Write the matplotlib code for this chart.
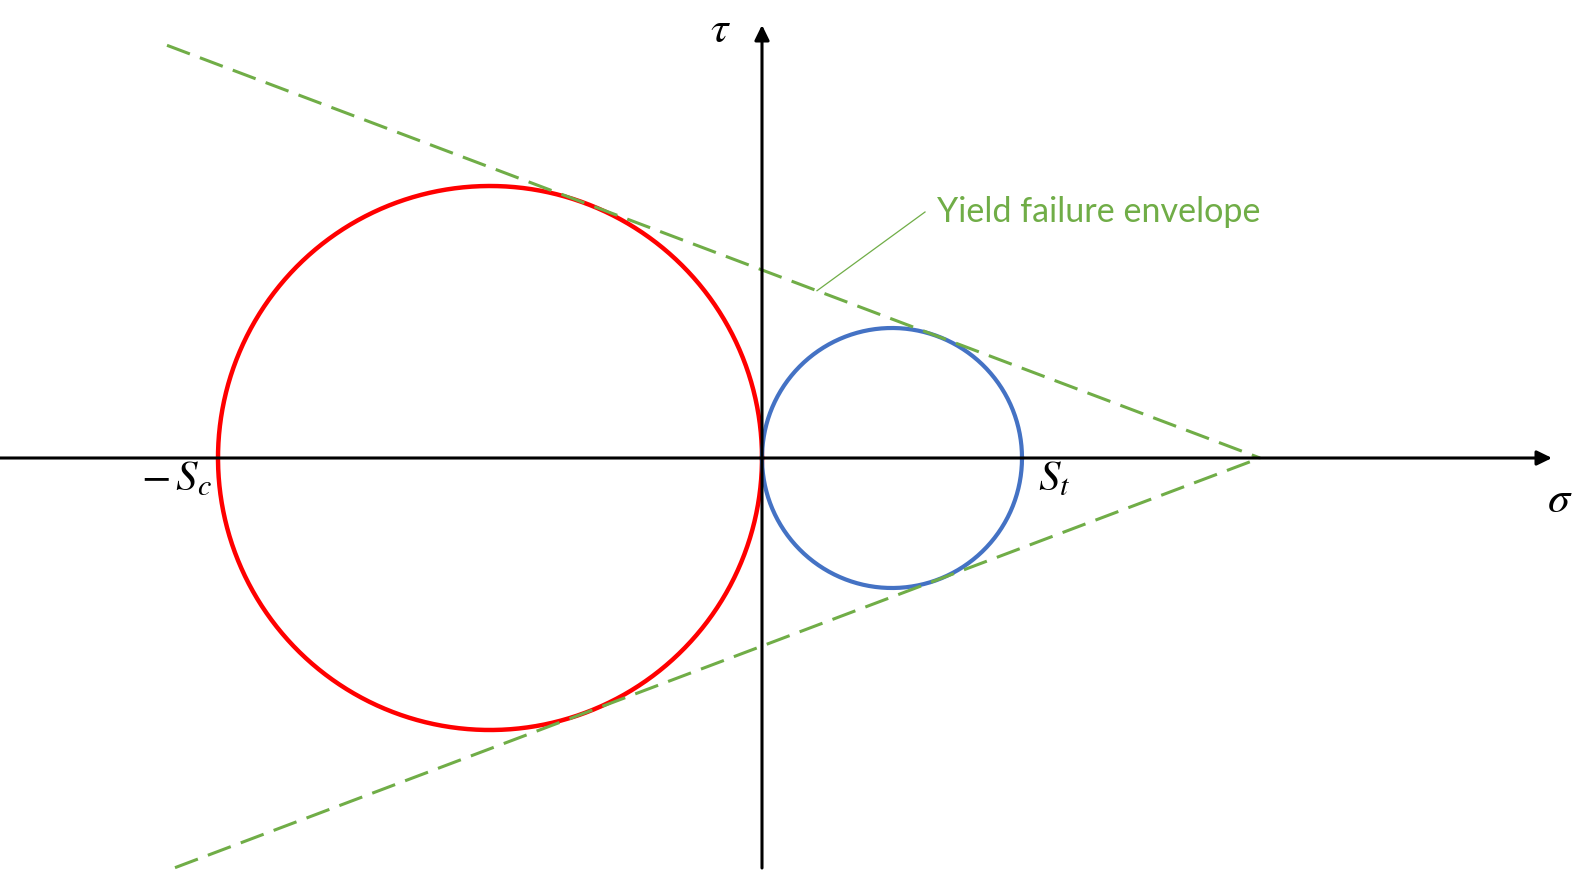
import numpy as np
import matplotlib
matplotlib.use('Agg')
import matplotlib.pyplot as plt

# ======================
# 1. 数据（单位：像素尺度的应力）
# ======================
Sc = 544          # 压缩强度
St = 260          # 拉伸强度
env_start = [-595, -587]   # 上/下包络线起点 σ
sigma_axis = [-762, 790]   # σ 轴范围（含箭头）
tau_axis = [-410, 433]     # τ 轴范围（含箭头）
leader_sigma = [55, 163]   # 引线 σ 端点
leader_tau_end = 246

# 颜色
RED = '#FF0000'
BLUE = '#4472C4'
GREEN = '#70AD47'

plt.rcParams['mathtext.fontset'] = 'stix'

# ======================
# 2. Mohr 圆和包络线
# ======================
c1, r1 = -Sc / 2, Sc / 2
c2, r2 = St / 2, St / 2
apex = (r1 * c2 - r2 * c1) / (r1 - r2)
slope = (r1 - r2) / np.sqrt((c2 - c1) ** 2 - (r1 - r2) ** 2)

theta = np.linspace(0, 2 * np.pi, 400)

fig = plt.figure(figsize=(15.82, 8.76), dpi=100)
ax = fig.add_axes([0, 0, 1, 1])
ax.set_xlim(-762, 820)
ax.set_ylim(-418, 458)
ax.axis('off')

# 坐标轴
arrow = dict(arrowstyle='-|>,head_length=0.45,head_width=0.22', lw=2.2,
             color='black', mutation_scale=20, shrinkA=0, shrinkB=0)
ax.annotate('', xy=(sigma_axis[1], 0), xytext=(sigma_axis[0], 0), arrowprops=arrow)
ax.annotate('', xy=(0, tau_axis[1]), xytext=(0, tau_axis[0]), arrowprops=arrow)

# 圆
ax.plot(c1 + r1 * np.cos(theta), r1 * np.sin(theta), color=RED, lw=3.2)
ax.plot(c2 + r2 * np.cos(theta), r2 * np.sin(theta), color=BLUE, lw=3.0)

# 包络线
s_up = np.array([env_start[0], apex])
s_lo = np.array([env_start[1], apex])
ax.plot(s_up, slope * (apex - s_up), color=GREEN, lw=2.2, dashes=(8, 3.5))
ax.plot(s_lo, -slope * (apex - s_lo), color=GREEN, lw=2.2, dashes=(8, 3.5))

# 引线 + 文字
ax.plot(leader_sigma, [slope * (apex - leader_sigma[0]), leader_tau_end],
        color=GREEN, lw=0.9)
ax.text(175, 236, 'Yield failure envelope', color=GREEN, fontsize=24.6,
        family='Lato', ha='left', va='baseline')

# 标签
ax.text(-42, 429, r'$\tau$', fontsize=32, ha='center', va='center')
ax.text(798, -42, r'$\sigma$', fontsize=32, ha='center', va='center')
ax.text(-586, -20, r'$-\,S_c$', fontsize=31, ha='center', va='center')
ax.text(292, -20, r'$S_t$', fontsize=31, ha='center', va='center')

plt.savefig('out.png', dpi=100)
plt.close()
